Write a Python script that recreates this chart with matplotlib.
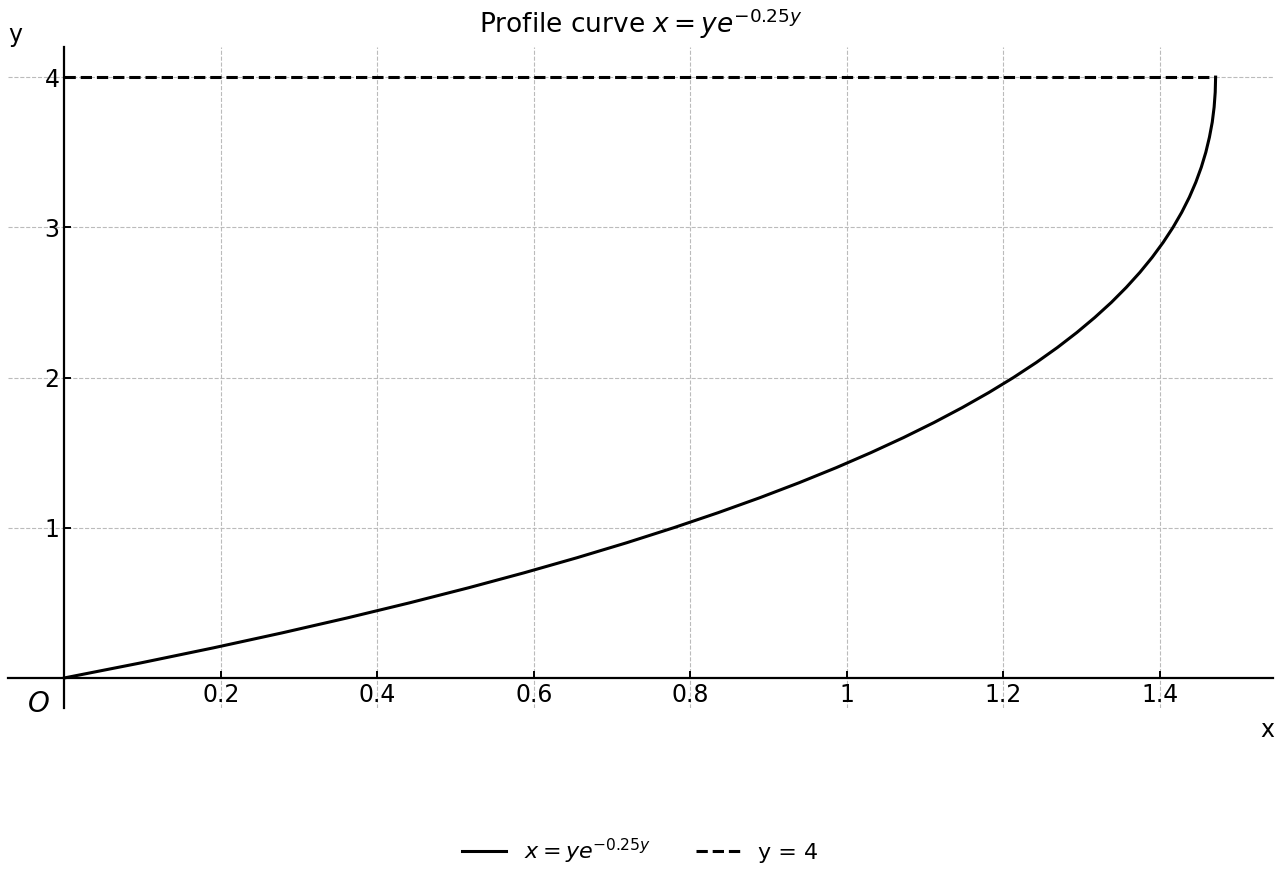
import numpy as np
import matplotlib.pyplot as plt

# profile curve points (y, x)
y_vals = [0.0, 0.1, 0.2, 0.3, 0.4, 0.5, 0.6, 0.7, 0.8, 0.9,
          1.0, 1.1, 1.2, 1.3, 1.4, 1.5, 1.6, 1.7, 1.8, 1.9,
          2.0, 2.1, 2.2, 2.3, 2.4, 2.5, 2.6, 2.7, 2.8, 2.9,
          3.0, 3.1, 3.2, 3.3, 3.4, 3.5, 3.6, 3.7, 3.8, 3.9, 4.0]
x_vals = [0.0, 0.0975, 0.1902, 0.2783, 0.3619, 0.4412, 0.5164, 0.5876, 0.6550, 0.7187,
          0.7788, 0.8355, 0.8890, 0.9393, 0.9866, 1.0309, 1.0725, 1.1114, 1.1477, 1.1816,
          1.2131, 1.2423, 1.2693, 1.2942, 1.3171, 1.3382, 1.3573, 1.3747, 1.3904, 1.4045,
          1.4171, 1.4282, 1.4379, 1.4462, 1.4532, 1.4590, 1.4636, 1.4672, 1.4696, 1.4710, 1.4715]
y_line = 4.0
x_ticks = [0.2, 0.4, 0.6, 0.8, 1.0, 1.2, 1.4]
x_tick_labels = ['0.2', '0.4', '0.6', '0.8', '1', '1.2', '1.4']
y_ticks = [1, 2, 3, 4]

fig = plt.figure(figsize=(12.8, 8.8), dpi=100)
ax = fig.add_axes([0.00625, 0.1955, 0.988, 0.751])

ax.plot(x_vals, y_vals, color='black', lw=2.2, label=r'$x = ye^{-0.25y}$')
ax.plot([0, max(x_vals)], [y_line, y_line], color='black', lw=2.2, ls='--', label='y = 4')

ax.set_xlim(-0.0722, 1.5444)
ax.set_ylim(-0.2, 4.2)
ax.spines['left'].set_position(('data', 0))
ax.spines['bottom'].set_position(('data', 0))
ax.spines['right'].set_visible(False)
ax.spines['top'].set_visible(False)
for s in ('left', 'bottom'):
    ax.spines[s].set_linewidth(1.6)

ax.set_xticks(x_ticks)
ax.set_xticklabels(x_tick_labels)
ax.set_yticks(y_ticks)
ax.tick_params(direction='in', labelsize=17, length=5, width=1.4)
ax.grid(True, ls='--', color='#bbbbbb', lw=0.8)

ax.set_title(r'Profile curve $x = ye^{-0.25y}$', fontsize=19, pad=10)
fig.text(0.0117, 0.96, 'y', fontsize=17, ha='center', va='center')
fig.text(0.99, 0.17, 'x', fontsize=17, ha='center', va='center')
ax.text(-0.033, -0.173, r'$O$', fontsize=20, ha='center', va='center')

fig.legend(loc='center', bbox_to_anchor=(0.5, 0.033), ncol=2, frameon=False,
           fontsize=16, handlelength=2.0, columnspacing=2.0)

fig.savefig('out.png', dpi=100)
